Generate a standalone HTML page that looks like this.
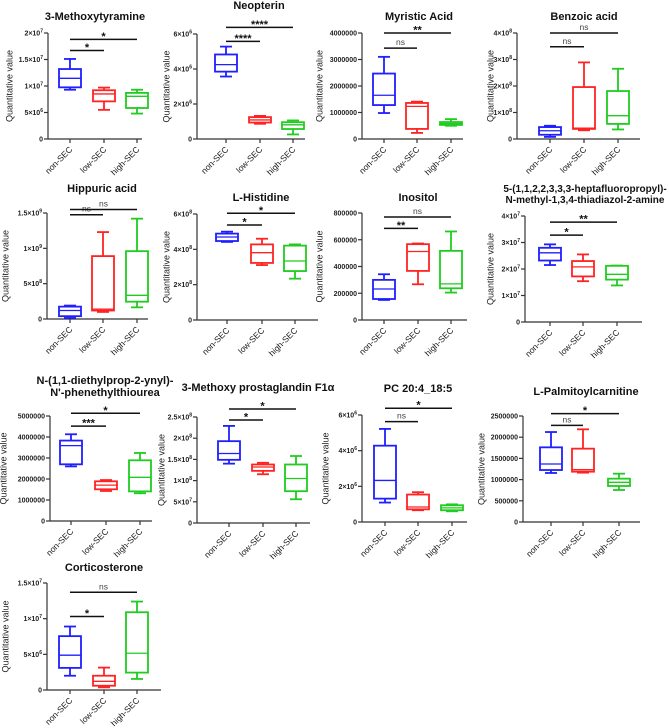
<!DOCTYPE html>
<html><head><meta charset="utf-8">
<style>
html,body{margin:0;padding:0;background:#fff;}
svg{display:block;font-family:"Liberation Sans",Arial,sans-serif;}
</style></head>
<body>
<svg id="fig" width="669" height="728" viewBox="0 0 669 728"></svg>
<script>
const categories = ["non-SEC","low-SEC","high-SEC"];
const colors = ["#1f1fff","#ff2222","#1fcc1f"];

// stats per group: [min, q1, median, q3, max]
const p01Stats = [[0.93e7,0.975e7,1.145e7,1.32e7,1.51e7],[5.5e6,7.1e6,8.5e6,9.2e6,9.7e6],[4.8e6,5.85e6,8.05e6,8.7e6,9.3e6]];
const p01Ticks = ["0","5×10^6","1×10^7","1.5×10^7","2×10^7"];
const p01TickVals = [0,5e6,1e7,1.5e7,2e7];
const p01Sig = [[0,1,1.67e7,"*"],[0,2,1.88e7,"*"]];

const p02Stats = [[3.57e6,3.85e6,4.25e6,4.83e6,5.28e6],[0.87e6,0.94e6,1.09e6,1.25e6,1.32e6],[0.26e6,0.57e6,0.81e6,0.96e6,1.06e6]];
const p02Ticks = ["0","2×10^6","4×10^6","6×10^6"];
const p02TickVals = [0,2e6,4e6,6e6];
const p02Sig = [[0,1,5.58e6,"****"],[0,2,6.38e6,"****"]];

const p03Stats = [[0.98e6,1.28e6,1.65e6,2.47e6,3.1e6],[0.23e6,0.38e6,1.23e6,1.36e6,1.41e6],[0.5e6,0.53e6,0.58e6,0.64e6,0.75e6]];
const p03Ticks = ["0","1000000","2000000","3000000","4000000"];
const p03TickVals = [0,1e6,2e6,3e6,4e6];
const p03Sig = [[0,1,3.43e6,"ns"],[0,2,4.0e6,"**"]];

const p04Stats = [[0.08e8,0.16e8,0.31e8,0.45e8,0.5e8],[0.33e8,0.38e8,0.41e8,1.96e8,2.89e8],[0.36e8,0.57e8,0.88e8,1.81e8,2.65e8]];
const p04Ticks = ["0","1×10^8","2×10^8","3×10^8","4×10^8"];
const p04TickVals = [0,1e8,2e8,3e8,4e8];
const p04Sig = [[0,1,3.48e8,"ns"],[0,2,4.0e8,"ns"]];

const p05Stats = [[0.015e9,0.04e9,0.12e9,0.175e9,0.19e9],[0.10e9,0.12e9,0.14e9,0.89e9,1.23e9],[0.165e9,0.245e9,0.335e9,0.96e9,1.42e9]];
const p05Ticks = ["0","5×10^8","1×10^9","1.5×10^9"];
const p05TickVals = [0,5e8,1e9,1.5e9];
const p05Sig = [[0,1,1.476e9,"ns"],[0,2,1.55e9,"ns"]];

const p06Stats = [[4.42e8,4.47e8,4.7e8,4.89e8,5.0e8],[3.11e8,3.23e8,3.81e8,4.28e8,4.6e8],[2.34e8,2.77e8,3.34e8,4.21e8,4.28e8]];
const p06Ticks = ["0","2×10^8","4×10^8","6×10^8"];
const p06TickVals = [0,2e8,4e8,6e8];
const p06Sig = [[0,1,5.38e8,"*"],[0,2,6.04e8,"*"]];

const p07Stats = [[150000,157000,232000,300000,342000],[267000,367000,512000,567000,572000],[205000,237000,270000,517000,662000]];
const p07Ticks = ["0","200000","400000","600000","800000"];
const p07TickVals = [0,200000,400000,600000,800000];
const p07Sig = [[0,1,685000,"**"],[0,2,770000,"ns"]];

const p08Stats = [[2.15e7,2.32e7,2.61e7,2.8e7,2.93e7],[1.54e7,1.72e7,2.08e7,2.3e7,2.55e7],[1.38e7,1.6e7,1.8e7,2.12e7,2.13e7]];
const p08Ticks = ["0","1×10^7","2×10^7","3×10^7","4×10^7"];
const p08TickVals = [0,1e7,2e7,3e7,4e7];
const p08Sig = [[0,1,3.28e7,"*"],[0,2,3.77e7,"**"]];

const p09Stats = [[2.6e6,2.7e6,3.59e6,3.83e6,4.13e6],[1.43e6,1.51e6,1.71e6,1.89e6,1.95e6],[1.32e6,1.41e6,2.08e6,2.89e6,3.24e6]];
const p09Ticks = ["0","1000000","2000000","3000000","4000000","5000000"];
const p09TickVals = [0,1e6,2e6,3e6,4e6,5e6];
const p09Sig = [[0,1,4.52e6,"***"],[0,2,5.13e6,"*"]];

const p10Stats = [[1.4e8,1.49e8,1.64e8,1.93e8,2.29e8],[1.15e8,1.23e8,1.32e8,1.38e8,1.42e8],[0.56e8,0.75e8,1.05e8,1.38e8,1.58e8]];
const p10Ticks = ["0","5×10^7","1×10^8","1.5×10^8","2×10^8","2.5×10^8"];
const p10TickVals = [0,5e7,1e8,1.5e8,2e8,2.5e8];
const p10Sig = [[0,1,2.43e8,"*"],[0,2,2.69e8,"*"]];

const p11Stats = [[1.09e6,1.31e6,2.33e6,4.28e6,5.22e6],[0.66e6,0.71e6,0.84e6,1.54e6,1.67e6],[0.6e6,0.66e6,0.79e6,0.94e6,0.99e6]];
const p11Ticks = ["0","2×10^6","4×10^6","6×10^6"];
const p11TickVals = [0,2e6,4e6,6e6];
const p11Sig = [[0,1,5.63e6,"ns"],[0,2,6.38e6,"*"]];

const p12Stats = [[1156000,1226000,1368000,1761000,2122000],[1164000,1187000,1234000,1730000,2186000],[755000,849000,936000,1022000,1140000]];
const p12Ticks = ["0","500000","1000000","1500000","2000000","2500000"];
const p12TickVals = [0,500000,1000000,1500000,2000000,2500000];
const p12Sig = [[0,1,2280000,"ns"],[0,2,2555000,"*"]];

const p13Stats = [[2.0e6,3.1e6,4.88e6,7.55e6,8.9e6],[0.37e6,0.6e6,1.22e6,2.0e6,3.14e6],[1.55e6,2.44e6,5.15e6,10.9e6,12.4e6]];
const p13Ticks = ["0","5×10^6","1×10^7","1.5×10^7"];
const p13TickVals = [0,5e6,1e7,1.5e7];
const p13Sig = [[0,1,10.3e6,"*"],[0,2,13.7e6,"ns"]];

const panels = [
 {id:"3-methoxytyramine",title:["3-Methoxytyramine"],ty:[20],tx:95,fs:11,stats:p01Stats,ticks:p01Ticks,tv:p01TickVals,sig:p01Sig,ax:48,xe:142,top:33,bot:139,cx:[70,104,137],yt:6},
 {id:"neopterin",title:["Neopterin"],ty:[9],tx:259,fs:11,stats:p02Stats,ticks:p02Ticks,tv:p02TickVals,sig:p02Sig,ax:197,xe:305,top:34,bot:139,cx:[226,260,293],yt:163},
 {id:"myristic-acid",title:["Myristic Acid"],ty:[20],tx:419,fs:11,stats:p03Stats,ticks:p03Ticks,tv:p03TickVals,sig:p03Sig,ax:362,xe:463,top:33,bot:139,cx:[384,417,451],yt:316},
 {id:"benzoic-acid",title:["Benzoic acid"],ty:[20],tx:584,fs:11,stats:p04Stats,ticks:p04Ticks,tv:p04TickVals,sig:p04Sig,ax:517,xe:640,top:33,bot:139,cx:[550,584,618],yt:487},
 {id:"hippuric-acid",title:["Hippuric acid"],ty:[192],tx:102,fs:11,stats:p05Stats,ticks:p05Ticks,tv:p05TickVals,sig:p05Sig,ax:47,xe:148,top:213,bot:319,cx:[70,103,137],yt:2},
 {id:"l-histidine",title:["L-Histidine"],ty:[201],tx:261,fs:11,stats:p06Stats,ticks:p06Ticks,tv:p06TickVals,sig:p06Sig,ax:197,xe:318,top:214,bot:320,cx:[227,262,295],yt:163},
 {id:"inositol",title:["Inositol"],ty:[201],tx:418,fs:11,stats:p07Stats,ticks:p07Ticks,tv:p07TickVals,sig:p07Sig,ax:362,xe:467,top:213,bot:320,cx:[384,418,451],yt:316},
 {id:"heptafluoropropyl-thiadiazol",title:["5-(1,1,2,2,3,3,3-heptafluoropropyl)-","N-methyl-1,3,4-thiadiazol-2-amine"],ty:[192,203],tx:585,fs:10,stats:p08Stats,ticks:p08Ticks,tv:p08TickVals,sig:p08Sig,ax:525,xe:642,top:216,bot:322,cx:[550,583,617],yt:487},
 {id:"phenethylthiourea",title:["N-(1,1-diethylprop-2-ynyl)-","N'-phenethylthiourea"],ty:[384,396],tx:105,fs:11,stats:p09Stats,ticks:p09Ticks,tv:p09TickVals,sig:p09Sig,ax:50,xe:152,top:416,bot:521,cx:[71,106,140],yt:0},
 {id:"methoxy-prostaglandin",title:["3-Methoxy prostaglandin F1α"],ty:[391],tx:258,fs:11,stats:p10Stats,ticks:p10Ticks,tv:p10TickVals,sig:p10Sig,ax:197,xe:310,top:417,bot:523,cx:[229,263,296],yt:158},
 {id:"pc-20-4-18-5",title:["PC 20:4_18:5"],ty:[392],tx:418,fs:11,stats:p11Stats,ticks:p11Ticks,tv:p11TickVals,sig:p11Sig,ax:362,xe:467,top:415,bot:522,cx:[385,418,452],yt:322},
 {id:"l-palmitoylcarnitine",title:["L-Palmitoylcarnitine"],ty:[395],tx:586,fs:11,stats:p12Stats,ticks:p12Ticks,tv:p12TickVals,sig:p12Sig,ax:523,xe:640,top:416,bot:522,cx:[551,583,619],yt:478},
 {id:"corticosterone",title:["Corticosterone"],ty:[571],tx:104,fs:11,stats:p13Stats,ticks:p13Ticks,tv:p13TickVals,sig:p13Sig,ax:47,xe:161,top:583,bot:690,cx:[70,104,137],yt:2}
];

const NS="http://www.w3.org/2000/svg";
const svg=document.getElementById("fig");
function mk(tag,attrs,parent){const e=document.createElementNS(NS,tag);for(const k in attrs)e.setAttribute(k,attrs[k]);(parent||svg).appendChild(e);return e;}

panels.forEach(p=>{
  const g=mk("g",{});
  
  
  const vmax=p.tv[p.tv.length-1];
  const y=v=>p.bot-(v/vmax)*(p.bot-p.top);
  p.title.forEach((t,i)=>{
    const tt=mk("text",{x:p.tx,y:p.ty[i],"text-anchor":"middle","font-size":p.fs,"font-weight":"bold",fill:"#111"},g);
    
    
    tt.textContent=t;
  });
  const yc=(p.top+p.bot)/2;
  const yl=mk("text",{x:p.yt,y:yc,transform:`rotate(-90 ${p.yt} ${yc})`,"text-anchor":"middle","dominant-baseline":"hanging","font-size":"9",fill:"#222"},g);
  
  
  yl.textContent="Quantitative value";
  const ya=mk("line",{x1:p.ax,y1:p.top,x2:p.ax,y2:p.bot,stroke:"#333","stroke-width":"1.2"},g);
  
  
  const xa=mk("line",{x1:p.ax,y1:p.bot,x2:p.xe,y2:p.bot,stroke:"#333","stroke-width":"1.2"},g);
  
  
  p.tv.forEach((v,i)=>{
    const yy=y(v);
    mk("line",{x1:p.ax-4,y1:yy,x2:p.ax,y2:yy,stroke:"#333","stroke-width":"1.2"},g);
    const tl=mk("text",{x:p.ax-5,y:yy+2.5,"text-anchor":"end","font-size":"7","font-weight":"bold",fill:"#222"},g);
    
    
    const lab=p.ticks[i];
    if(lab.includes("^")){
      const [a,b]=lab.split("^");
      tl.appendChild(document.createTextNode(a));
      const s=mk("tspan",{dy:"-3","font-size":"5"},tl);s.textContent=b;
    } else tl.textContent=lab;
  });
  categories.forEach((c,i)=>{
    const cx=p.cx[i];
    mk("line",{x1:cx,y1:p.bot,x2:cx,y2:p.bot+4,stroke:"#333","stroke-width":"1.2"},g);
    const xl=mk("text",{x:cx+3,y:p.bot+11,transform:`rotate(-45 ${cx+3} ${p.bot+11})`,"text-anchor":"end","font-size":"8.5",fill:"#222"},g);
    
    
    xl.textContent=c;
    const s=p.stats[i], col=colors[i], bw=11, cw=6;
    const bg=mk("g",{stroke:col,"stroke-width":"1.8",fill:"none"},g);
    
    
    mk("line",{x1:cx,y1:y(s[4]),x2:cx,y2:y(s[3])},bg);
    mk("line",{x1:cx,y1:y(s[1]),x2:cx,y2:y(s[0])},bg);
    mk("line",{x1:cx-cw,y1:y(s[4]),x2:cx+cw,y2:y(s[4])},bg);
    mk("line",{x1:cx-cw,y1:y(s[0]),x2:cx+cw,y2:y(s[0])},bg);
    mk("rect",{x:cx-bw,y:y(s[3]),width:2*bw,height:Math.max(0.5,y(s[1])-y(s[3]))},bg);
    mk("line",{x1:cx-bw,y1:y(s[2]),x2:cx+bw,y2:y(s[2]),"stroke-width":"1.3"},bg);
  });
  p.sig.forEach(sg=>{
    const yy=y(sg[2]);
    const sgG=mk("g",{},g);
    
    
    mk("line",{x1:p.cx[sg[0]],y1:yy,x2:p.cx[sg[1]],y2:yy,stroke:"#111","stroke-width":"1.5"},sgG);
    const ns=sg[3]==="ns";
    const t=mk("text",{x:(p.cx[sg[0]]+p.cx[sg[1]])/2,y:ns?yy-3:yy+0.5,"text-anchor":"middle","font-size":ns?"8.5":"11",fill:ns?"#444":"#111","font-weight":ns?"normal":"bold"},sgG);
    t.textContent=sg[3];
  });
});
</script>
</body></html>
